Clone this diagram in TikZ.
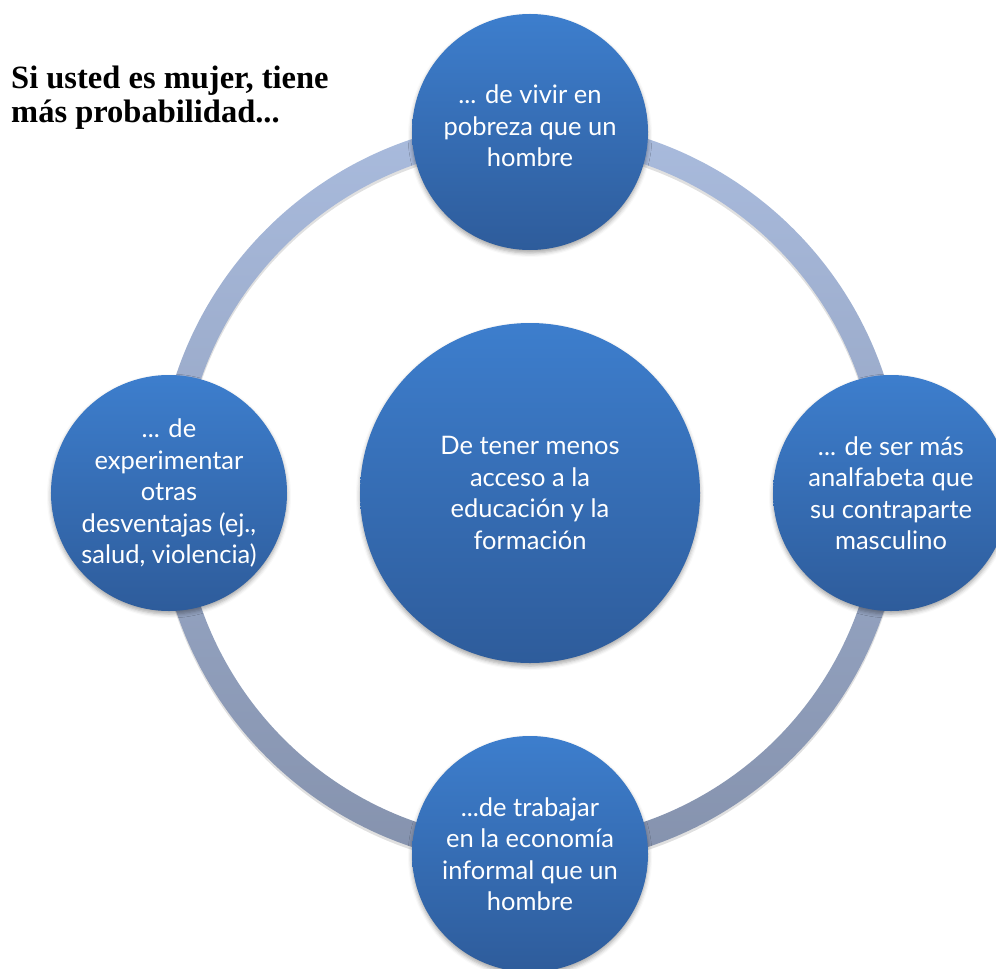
\documentclass[tikz,border=0pt]{standalone}
\usepackage{fontspec}
\setmainfont{Liberation Serif}
\newfontfamily\bubblefont{Lato}
\usetikzlibrary{positioning,shadows.blur}
\definecolor{ringTop}{HTML}{A9BBDD}
\definecolor{ringBottom}{HTML}{8592AD}
\definecolor{bubbleTop}{HTML}{3D7ECD}
\definecolor{bubbleBottom}{HTML}{2E5C9B}

\begin{document}
\begin{tikzpicture}[x=1bp,y=-1bp,node distance=361bp,
	Ring/.style={top color=ringTop,bottom color=ringBottom,even odd rule},
	RingShadow/.style={fill=black,opacity=0.12,even odd rule},
	Bubble/.style={circle,minimum size=236bp,inner sep=0pt,top color=bubbleTop,bottom color=bubbleBottom,
		text=white,align=center,font=\bubblefont\fontsize{25.5bp}{31.5bp}\selectfont,
		blur shadow={shadow xshift=0bp,shadow yshift=-3bp,shadow blur radius=4bp,shadow opacity=35}},
	Core/.style={Bubble,minimum size=340bp},
	Title/.style={anchor=north west,align=left,inner sep=0pt,font=\bfseries\fontsize{32.5bp}{34bp}\selectfont},
]
	\useasboundingbox (0,0) rectangle (996,969);
	\coordinate (Mid) at (530,493);

	% ring behind the bubbles
	\fill[RingShadow] ([yshift=-3bp]Mid) circle[radius=373bp] circle[radius=348bp];
	\shade[Ring] (Mid) circle[radius=373bp] circle[radius=348bp];

	\node[Core] (Hub) at (Mid) {De tener menos\\acceso a la\\educación y la\\formación};
	\node[Bubble] (Poverty)[above of=Mid] {... de vivir en\\pobreza que un\\hombre\\[-19.5bp]};
	\node[Bubble] (Literacy)[right of=Mid] {... de ser más\\analfabeta que\\su contraparte\\masculino};
	\node[Bubble] (Informal)[below of=Mid] {...de trabajar\\en la economía\\informal que un\\hombre};
	\node[Bubble] (Other)[left of=Mid] {... de\\experimentar\\otras\\desventajas (ej.,\\salud, violencia)};

	\node[Title] (Heading) at (11,66) {Si usted es mujer, tiene\\más probabilidad...};
\end{tikzpicture}
\end{document}
